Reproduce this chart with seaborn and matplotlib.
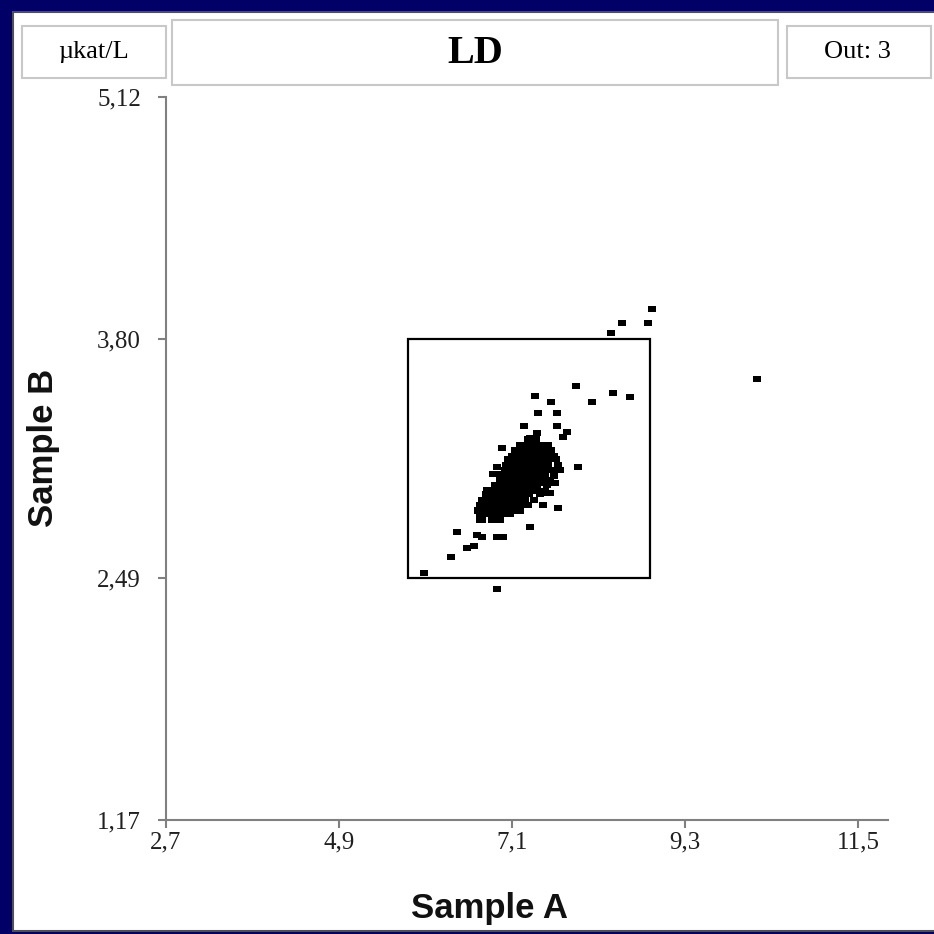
import numpy as np
import pandas as pd
import matplotlib
matplotlib.use("Agg")
import matplotlib.pyplot as plt
from matplotlib.patches import Rectangle
import seaborn as sns

# ---- data ----
# dense core of the cloud, one list per row (Sample B value of the row)
core_b = [3.25, 3.22, 3.19, 3.16, 3.14, 3.11, 3.08, 3.05, 3.03, 3.00,
          2.97, 2.95, 2.92, 2.89, 2.86, 2.84, 2.81]
core_a = [
    [7.30, 7.40],
    [7.20, 7.29, 7.38, 7.47, 7.56],
    [7.14, 7.23, 7.32, 7.41, 7.50, 7.60],
    [7.10, 7.19, 7.28, 7.37, 7.46, 7.55, 7.64],
    [7.05, 7.14, 7.23, 7.32, 7.41, 7.50, 7.58, 7.66],
    [7.02, 7.11, 7.20, 7.29, 7.38, 7.47, 7.56, 7.68],
    [7.01, 7.09, 7.18, 7.27, 7.36, 7.45, 7.54, 7.63, 7.71],
    [6.98, 7.07, 7.16, 7.25, 7.34, 7.43, 7.52, 7.64],
    [6.95, 7.04, 7.13, 7.22, 7.31, 7.40, 7.49, 7.58],
    [6.88, 6.97, 7.06, 7.15, 7.24, 7.33, 7.42, 7.55],
    [6.82, 6.91, 7.00, 7.09, 7.18, 7.27, 7.36, 7.45, 7.52],
    [6.77, 6.86, 6.95, 7.04, 7.13, 7.22, 7.31, 7.45],
    [6.72, 6.81, 6.90, 6.99, 7.08, 7.17, 7.26, 7.38],
    [6.69, 6.78, 6.87, 6.96, 7.05, 7.14, 7.22, 7.30],
    [6.67, 6.76, 6.85, 6.94, 7.03, 7.12, 7.20],
    [6.69, 6.78, 6.88, 6.97, 7.07],
    [6.72, 6.84, 6.95],
]

# single points around the core
loose_a = [7.914, 7.392, 7.596, 8.117, 7.430, 7.672, 7.252, 7.672, 7.799, 7.748,
           7.418, 7.329, 6.973, 7.240, 7.939, 6.909, 6.858, 6.947, 7.519, 7.647,
           7.494, 7.583, 7.494, 7.685, 6.782, 6.667, 7.329, 6.693, 6.400, 6.655,
           6.718, 6.909, 6.985, 6.528, 6.617, 6.324, 5.981, 6.909, 8.359, 8.498,
           8.829, 8.880, 8.384, 8.600, 10.215]
loose_b = [3.541, 3.487, 3.454, 3.454, 3.394, 3.394, 3.323, 3.323, 3.290, 3.263,
           3.285, 3.257, 3.203, 3.203, 3.099, 3.099, 3.061, 3.061, 3.011, 3.011,
           2.957, 2.957, 2.891, 2.875, 2.973, 2.864, 2.771, 2.809, 2.744, 2.727,
           2.716, 2.716, 2.716, 2.656, 2.667, 2.607, 2.520, 2.432, 3.831, 3.886,
           3.886, 3.962, 3.503, 3.481, 3.580]

box_a = [5.78, 8.86]
box_b = [2.49, 3.80]

x_ticks = [2.7, 4.9, 7.1, 9.3, 11.5]
x_tick_labels = ["2,7", "4,9", "7,1", "9,3", "11,5"]
y_ticks = [1.17, 2.49, 3.80, 5.12]
y_tick_labels = ["1,17", "2,49", "3,80", "5,12"]

unit_text = "µkat/L"
title_text = "LD"
out_text = "Out: 3"

a_vals = [a for row in core_a for a in row] + loose_a
b_vals = [b for b, row in zip(core_b, core_a) for _ in row] + loose_b
df = pd.DataFrame({"Sample A": a_vals, "Sample B": b_vals})

# ---- drawing ----
sns.set_style("white")
plt.rcParams["font.family"] = ["Liberation Serif", "DejaVu Serif"]

navy = "#000066"
grey = "#808080"
fig = plt.figure(figsize=(9.34, 9.34), dpi=100, facecolor=navy)

# white panel
fig.patches.append(Rectangle((0.0139, 0.0032), 1.0, 0.984, transform=fig.transFigure,
                             facecolor="white", edgecolor="#505050", lw=1.5, zorder=-2))

# header boxes
for (x0, y0, w, h) in [(0.0236, 0.9165, 0.1542, 0.0557),
                       (0.1842, 0.9090, 0.6488, 0.0696),
                       (0.8426, 0.9165, 0.1542, 0.0557)]:
    fig.patches.append(Rectangle((x0, y0), w, h, transform=fig.transFigure,
                                 facecolor="white", edgecolor="#c8c8c8", lw=1.5, zorder=-1))
fig.text(0.1006, 0.9443, unit_text, ha="center", va="center", fontsize=19, color="black")
fig.text(0.5086, 0.9430, title_text, ha="center", va="center", fontsize=29,
         fontweight="bold", color="black")
fig.text(0.9176, 0.9443, out_text, ha="center", va="center", fontsize=19, color="black")

ax = fig.add_axes([0.1777, 0.1221, 0.7730, 0.7740])
ax.patch.set_visible(False)

rect_marker = [(-1, -0.7), (1, -0.7), (1, 0.7), (-1, 0.7), (-1, -0.7)]
sns.scatterplot(data=df, x="Sample A", y="Sample B", ax=ax, color="black",
                marker=rect_marker, s=40, linewidth=0, legend=False, zorder=3)

ax.add_patch(Rectangle((box_a[0], box_b[0]), box_a[1] - box_a[0], box_b[1] - box_b[0],
                       fill=False, edgecolor="black", lw=1.6, zorder=2))

ax.set_xlim(2.7, 11.88)
ax.set_ylim(1.17, 5.12)
ax.set_xticks(x_ticks)
ax.set_xticklabels(x_tick_labels)
ax.set_yticks(y_ticks)
ax.set_yticklabels(y_tick_labels)

for side in ["top", "right"]:
    ax.spines[side].set_visible(False)
for side in ["left", "bottom"]:
    ax.spines[side].set_color(grey)
    ax.spines[side].set_linewidth(1.5)
ax.tick_params(axis="both", bottom=True, left=True, direction="out", length=6,
               width=1.5, color=grey, labelsize=18, labelcolor="#202020")
ax.tick_params(axis="y", pad=12)
ax.tick_params(axis="x", pad=2)

ax.set_xlabel("")
ax.set_ylabel("")
fig.text(0.5246, 0.0278, "Sample A", ha="center", va="center", fontsize=25,
         fontweight="bold", family=["Liberation Sans", "DejaVu Sans"], color="#111111")
fig.text(0.0471, 0.5200, "Sample B", ha="center", va="center", fontsize=25, rotation=90,
         fontweight="bold", family=["Liberation Sans", "DejaVu Sans"], color="#111111")

fig.savefig("out.png", dpi=100, facecolor=navy)
